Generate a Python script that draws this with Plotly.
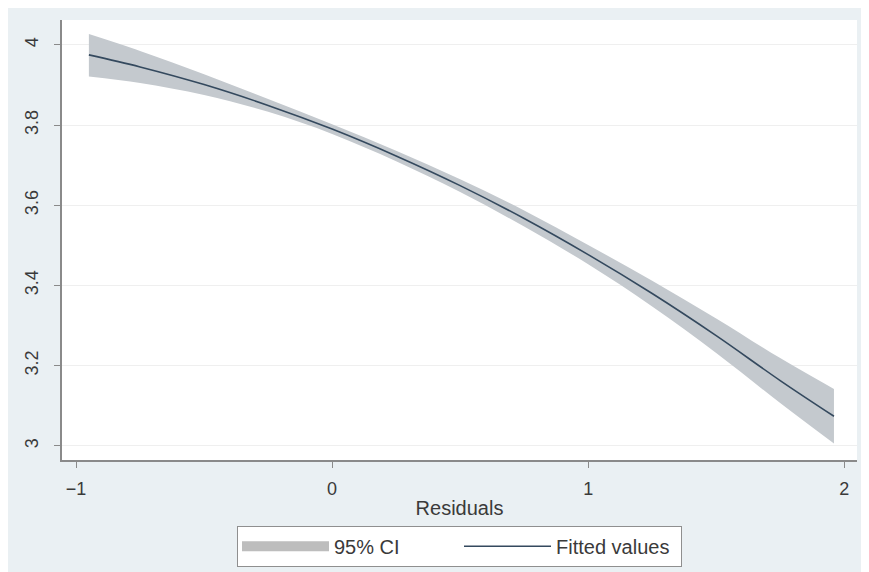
import plotly.graph_objects as go

# Data
x_vals = [-0.95, -0.75, -0.5, -0.25, 0.0, 0.25, 0.5, 0.75, 1.0, 1.25, 1.5, 1.75, 1.96]
fitted = [3.975, 3.945, 3.901, 3.849, 3.790, 3.723, 3.649, 3.567, 3.477, 3.380, 3.275, 3.163, 3.074]
ci_upper = [4.027, 3.985, 3.927, 3.865, 3.802, 3.736, 3.665, 3.587, 3.501, 3.412, 3.318, 3.219, 3.142]
ci_lower = [3.921, 3.905, 3.875, 3.833, 3.778, 3.710, 3.633, 3.547, 3.453, 3.348, 3.232, 3.107, 3.006]
x_ticks = [-1, 0, 1, 2]
y_ticks = [3, 3.2, 3.4, 3.6, 3.8, 4]
y_tick_text = ["3", "3.2", "3.4", "3.6", "3.8", "4"]

BG = "#eaf0f3"
FONT = "Liberation Sans, Arial, sans-serif"
TXT = "#3a3a3a"

fig = go.Figure()
# CI band: upper edge, then lower edge filled to it
fig.add_trace(go.Scatter(
    x=x_vals, y=ci_upper, mode="lines", line=dict(width=0, shape="spline"),
    showlegend=False, hoverinfo="skip", legendgroup="ci"))
fig.add_trace(go.Scatter(
    x=x_vals, y=ci_lower, mode="lines", line=dict(width=0, shape="spline"),
    fill="tonexty", fillcolor="#c4c9ce",
    showlegend=False, hoverinfo="skip", legendgroup="ci", name="95% CI"))
# legend key for the CI band (wide gray bar as in the reference)
fig.add_trace(go.Scatter(
    x=[None], y=[None], mode="lines", name="95% CI", legendgroup="ci",
    line=dict(color="#bdbdbd", width=17)))
fig.add_trace(go.Scatter(
    x=x_vals, y=fitted, mode="lines", name="Fitted values",
    line=dict(color="#34495e", width=1.6, shape="spline")))

fig.update_layout(
    width=854, height=564,
    margin=dict(l=54, r=5, t=12, b=110),
    paper_bgcolor=BG, plot_bgcolor="white",
    font=dict(family=FONT, color=TXT, size=18),
    xaxis=dict(range=[-1.055, 2.05], tickvals=x_ticks, showgrid=False,
               zeroline=False, showline=True, linecolor="#8a8a8a", linewidth=1.5,
               ticks="outside", ticklen=6, tickcolor="#8a8a8a",
               ticklabelstandoff=6,
               tickfont=dict(size=18),
               title=dict(text="Residuals", font=dict(size=20), standoff=3)),
    yaxis=dict(range=[2.965, 4.062], tickvals=y_ticks, ticktext=y_tick_text,
               tickangle=-90, showgrid=True, gridcolor="#efefef", gridwidth=1,
               zeroline=False, showline=True, linecolor="#8a8a8a", linewidth=1.5,
               ticks="outside", ticklen=6, tickcolor="#8a8a8a",
               ticklabelstandoff=9,
               tickfont=dict(size=18)),
    legend=dict(orientation="h", x=0.5, xanchor="center", y=-66/442, yanchor="top",
                bgcolor="white", bordercolor="#8f8f8f", borderwidth=1,
                font=dict(size=20), itemwidth=87, entrywidth=120),
    showlegend=True,
)

fig.write_html("out.html")
